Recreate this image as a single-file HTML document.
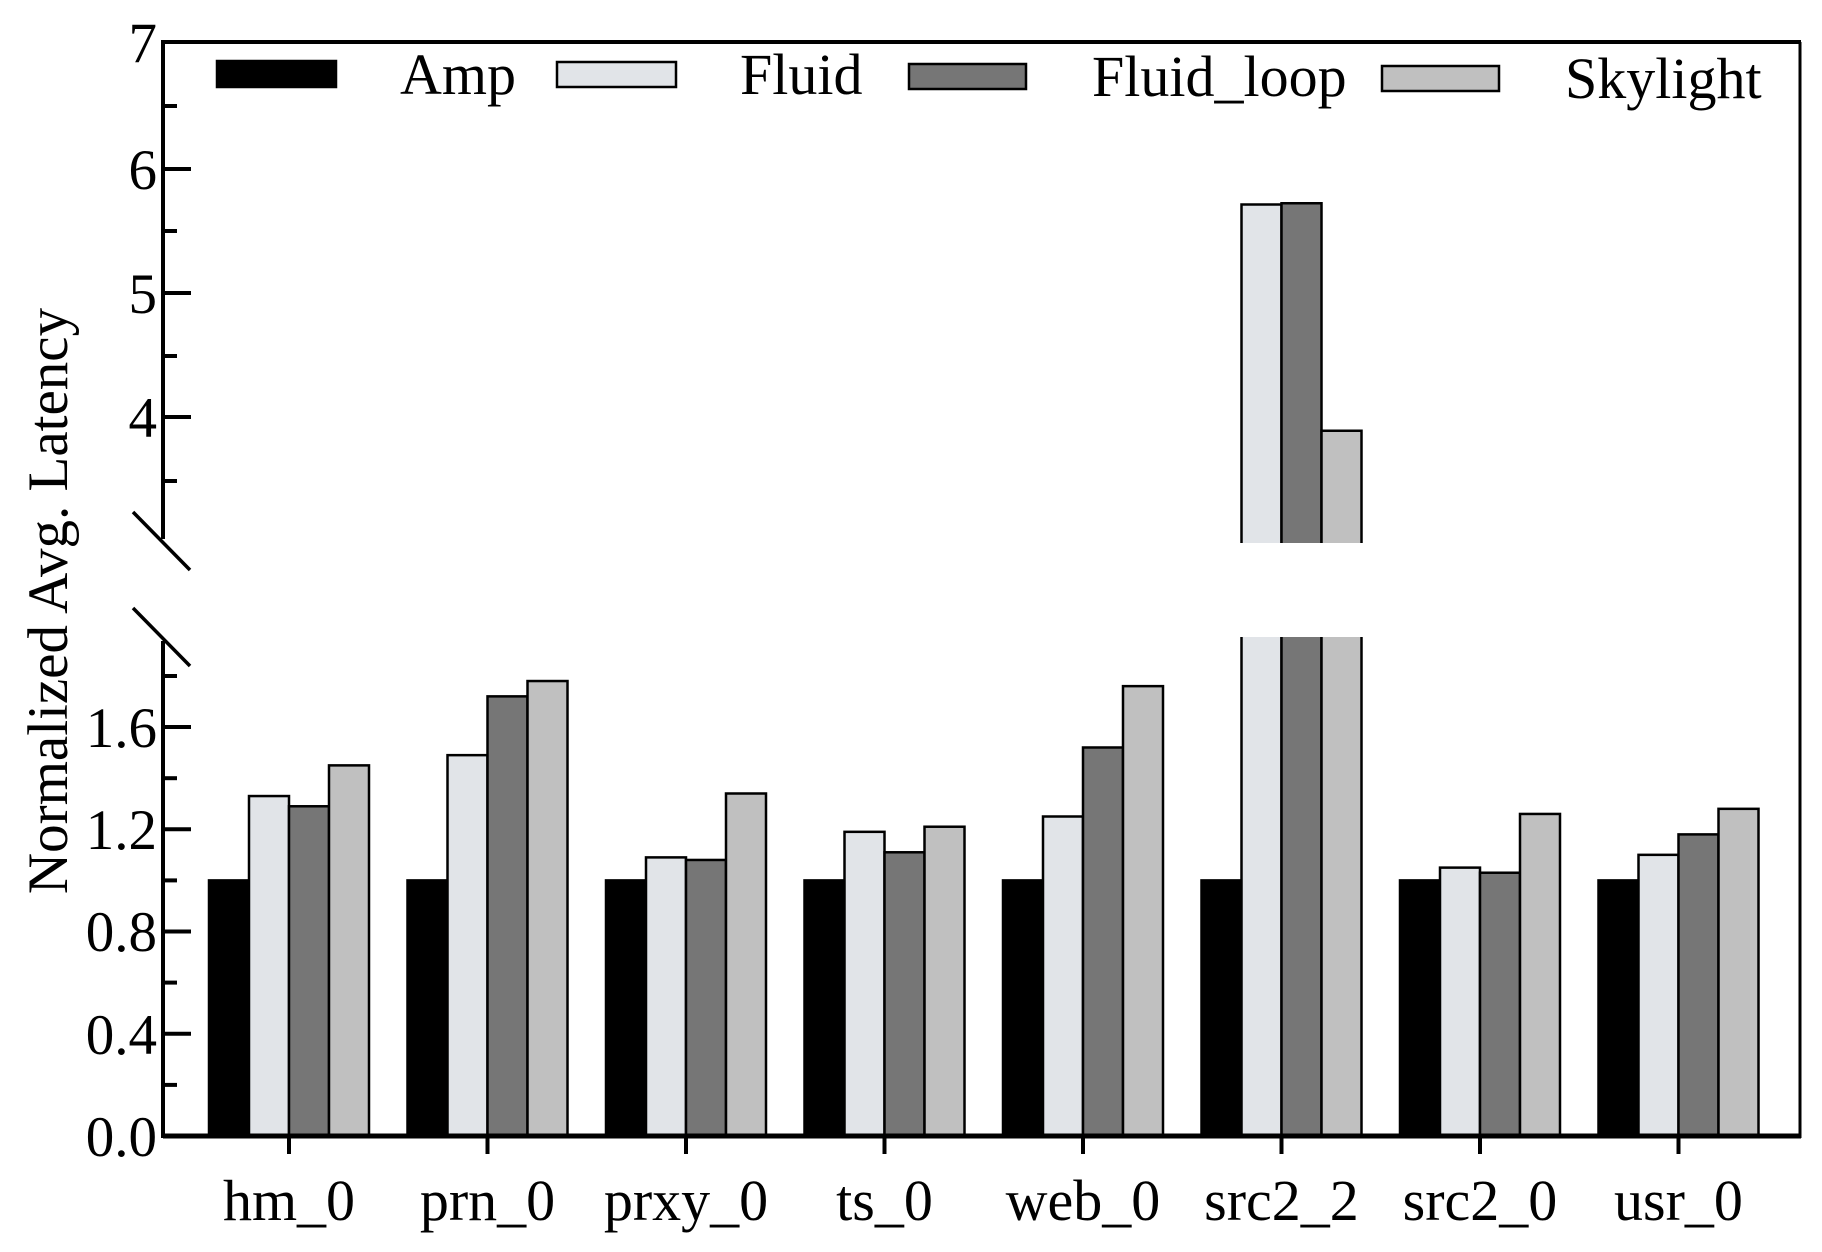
<!DOCTYPE html>
<html><head><meta charset="utf-8"><style>html,body{margin:0;padding:0;background:#fff}svg{display:block}</style></head>
<body>
<svg width="1822" height="1252" viewBox="0 0 1822 1252" xmlns="http://www.w3.org/2000/svg" font-family="Liberation Serif, serif">
<rect width="1822" height="1252" fill="#fff"/>
<g id="bars" stroke="#000" stroke-width="2.5"></g>
<script>
(function(){
var ns="http://www.w3.org/2000/svg",g=document.getElementById("bars");
var data=[[1,1.33,1.29,1.45],[1,1.49,1.72,1.78],[1,1.09,1.08,1.34],[1,1.19,1.11,1.21],[1,1.25,1.52,1.76],[1,0,0,0],[1,1.05,1.03,1.26],[1,1.10,1.18,1.28]];
var col=["#000","#e1e4e8","#767676","#c0c0c0"];
function r(x,y,w,h,f){var e=document.createElementNS(ns,"rect");e.setAttribute("x",x);e.setAttribute("y",y);e.setAttribute("width",w);e.setAttribute("height",h);e.setAttribute("fill",f);g.appendChild(e);}
function p(d,f,s){var e=document.createElementNS(ns,"path");e.setAttribute("d",d);e.setAttribute("fill",f);if(s)e.setAttribute("stroke",s);g.appendChild(e);}
for(var i=0;i<8;i++){var c=289+198.5*i;for(var j=0;j<4;j++){var x=c-80+40*j;
if(i==5&&j>0){var up=[0,5.70,5.71,3.89][j];var yt=42+(7-up)*125;
p("M"+x+" 543 V"+yt+" H"+(x+40)+" V543 Z",col[j],"none");
p("M"+x+" 543 V"+yt+" H"+(x+40)+" V543","none","#000");
p("M"+x+" 637 H"+(x+40)+" V1136 H"+x+" Z",col[j],"none");
p("M"+x+" 637 V1136 H"+(x+40)+" V637","none","#000");
}else{var v=data[i][j];var y=1136-v*255.6;r(x,y,40,1136-y,col[j]);}}}
})();
</script>
<g stroke="#000" fill="none">
<line x1="163" y1="42" x2="1801" y2="42" stroke-width="4"/>
<line x1="1800" y1="42" x2="1800" y2="1138" stroke-width="3"/>
<line x1="163" y1="1136" x2="1801" y2="1136" stroke-width="5"/>
<line x1="163" y1="40" x2="163" y2="539" stroke-width="4"/>
<line x1="163" y1="641" x2="163" y2="1138" stroke-width="4"/>
<line x1="133" y1="512" x2="190" y2="570" stroke-width="3.5"/>
<line x1="133" y1="608" x2="190" y2="666" stroke-width="3.5"/>
<g stroke-width="4">
<line x1="163" y1="169" x2="191" y2="169"/><line x1="163" y1="293" x2="191" y2="293"/><line x1="163" y1="417" x2="191" y2="417"/>
<line x1="163" y1="106" x2="177" y2="106"/><line x1="163" y1="231" x2="177" y2="231"/><line x1="163" y1="356" x2="177" y2="356"/><line x1="163" y1="481" x2="177" y2="481"/>
<line x1="163" y1="1033.8" x2="191" y2="1033.8"/><line x1="163" y1="931.5" x2="191" y2="931.5"/><line x1="163" y1="829.3" x2="191" y2="829.3"/><line x1="163" y1="727" x2="191" y2="727"/>
<line x1="163" y1="1084.9" x2="177" y2="1084.9"/><line x1="163" y1="982.6" x2="177" y2="982.6"/><line x1="163" y1="880.4" x2="177" y2="880.4"/><line x1="163" y1="778.2" x2="177" y2="778.2"/><line x1="163" y1="676" x2="177" y2="676"/>
<line x1="289" y1="1136" x2="289" y2="1154"/><line x1="487.5" y1="1136" x2="487.5" y2="1154"/><line x1="686" y1="1136" x2="686" y2="1154"/><line x1="884.5" y1="1136" x2="884.5" y2="1154"/><line x1="1083" y1="1136" x2="1083" y2="1154"/><line x1="1281.5" y1="1136" x2="1281.5" y2="1154"/><line x1="1480" y1="1136" x2="1480" y2="1154"/><line x1="1678.5" y1="1136" x2="1678.5" y2="1154"/>
</g>
</g>
<g font-size="57" fill="#000" text-anchor="end">
<text x="157" y="62">7</text><text x="157" y="189">6</text><text x="157" y="313">5</text><text x="157" y="437">4</text>
<text x="157" y="747">1.6</text><text x="157" y="849">1.2</text><text x="157" y="951">0.8</text><text x="157" y="1054">0.4</text><text x="157" y="1156">0.0</text>
</g>
<g font-size="58" fill="#000" text-anchor="middle">
<text x="289" y="1220">hm_0</text><text x="487.5" y="1220">prn_0</text><text x="686" y="1220">prxy_0</text><text x="884.5" y="1220">ts_0</text><text x="1083" y="1220">web_0</text><text x="1281.5" y="1220">src2_2</text><text x="1480" y="1220">src2_0</text><text x="1678.5" y="1220">usr_0</text>
</g>
<text transform="translate(67,601) rotate(-90)" font-size="57" text-anchor="middle">Normalized Avg. Latency</text>
<g stroke="#000" stroke-width="2.5">
<rect x="217" y="61" width="119" height="26" fill="#000"/>
<rect x="557" y="62" width="119" height="25" fill="#e1e4e8"/>
<rect x="909" y="64" width="117" height="25" fill="#767676"/>
<rect x="1382" y="66" width="117" height="25" fill="#c0c0c0"/>
</g>
<g font-size="58" fill="#000">
<text x="400" y="94">Amp</text><text x="740" y="94">Fluid</text><text x="1092" y="96">Fluid_loop</text><text x="1565" y="98">Skylight</text>
</g>
</svg>
</body></html>
